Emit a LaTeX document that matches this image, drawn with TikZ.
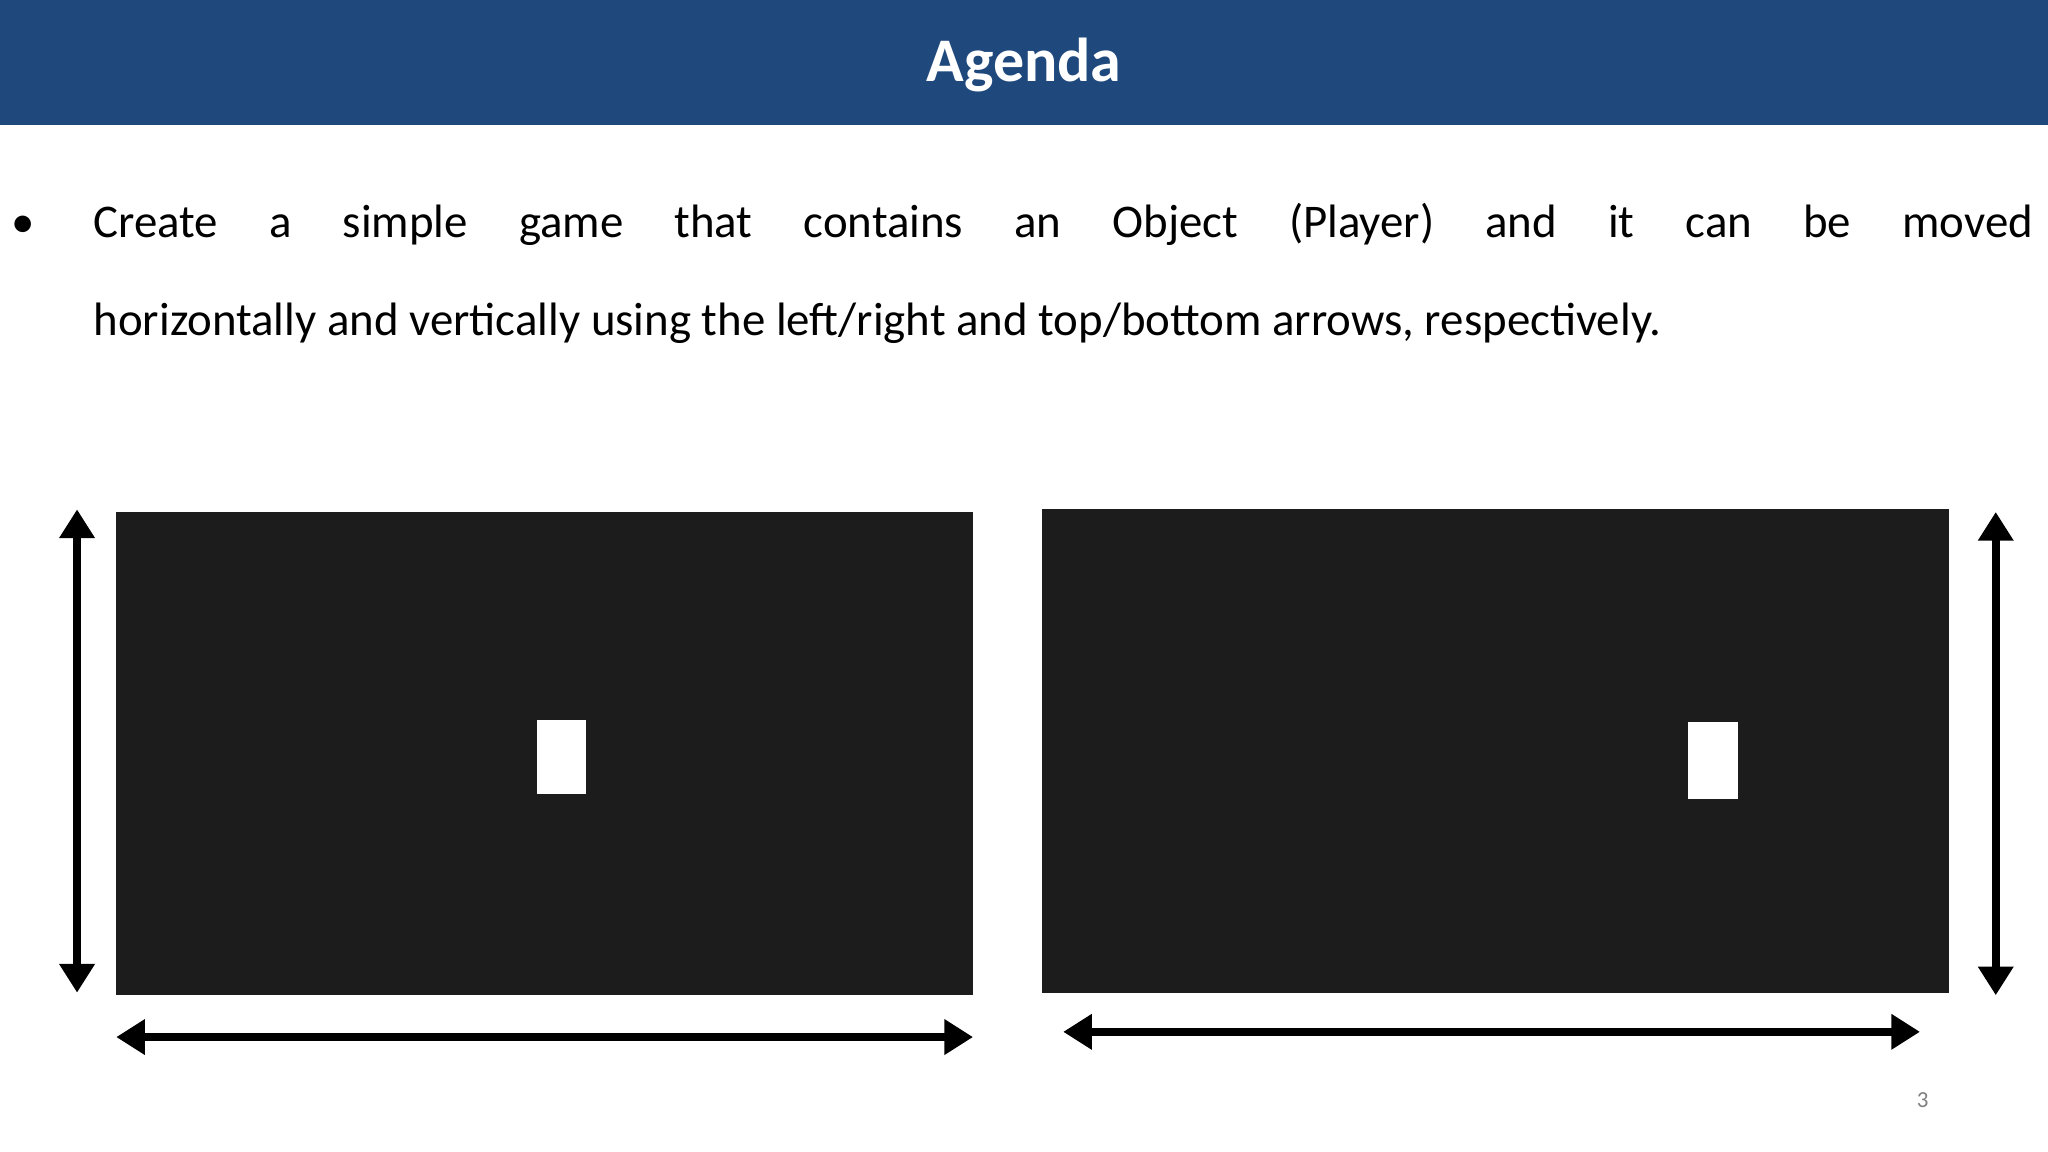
\documentclass[tikz,border=0pt]{standalone}
\usepackage{fontspec}
\setmainfont{Carlito}
\usetikzlibrary{arrows.meta}
\definecolor{hdr}{HTML}{1F497D}
\definecolor{scr}{HTML}{1C1C1C}
\begin{document}
\begin{tikzpicture}[x=0.01cm,y=-0.01cm,
  dbl/.style={line width=1.7pt,{Triangle[length=0.22cm,width=0.26cm]}-{Triangle[length=0.22cm,width=0.26cm]}},
  body/.style={font=\fontsize{10.2}{12}\selectfont,anchor=base west,inner sep=0pt}]
\useasboundingbox (0,0) rectangle (1568,882);
\fill[white] (0,0) rectangle (1568,882);
\fill[hdr] (0,0) rectangle (1568,96);
\node[text=white,font=\fontsize{13.5}{16}\bfseries\selectfont] (title) at (784,50) {Agenda};
\node[body,anchor=base] (bul) at (18,182) {•};
\node[body] (l1) at (71,182) {\makebox[14.84cm][s]{Create a simple game that contains an Object (Player) and it can be moved}};
\node[body] (l2) at (71,257) {horizontally and vertically using the left/right and top/bottom arrows, respectively.};
\fill[scr] (89,392) rectangle (745,762);
\fill[white] (411,551) rectangle (449,608);
\fill[scr] (798,390) rectangle (1492,760);
\fill[white] (1292,553) rectangle (1331,612);
\coordinate (a1) at (59,390); \coordinate (a2) at (59,760);
\coordinate (b1) at (89,794); \coordinate (b2) at (745,794);
\coordinate (c1) at (1528,392); \coordinate (c2) at (1528,762);
\coordinate (d1) at (814,790); \coordinate (d2) at (1470,790);
\draw[dbl] (a1) -- (a2);
\draw[dbl] (b1) -- (b2);
\draw[dbl] (c1) -- (c2);
\draw[dbl] (d1) -- (d2);
\node[text=gray,font=\fontsize{5}{6}\selectfont] (pg) at (1472,842) {3};
\end{tikzpicture}
\end{document}
